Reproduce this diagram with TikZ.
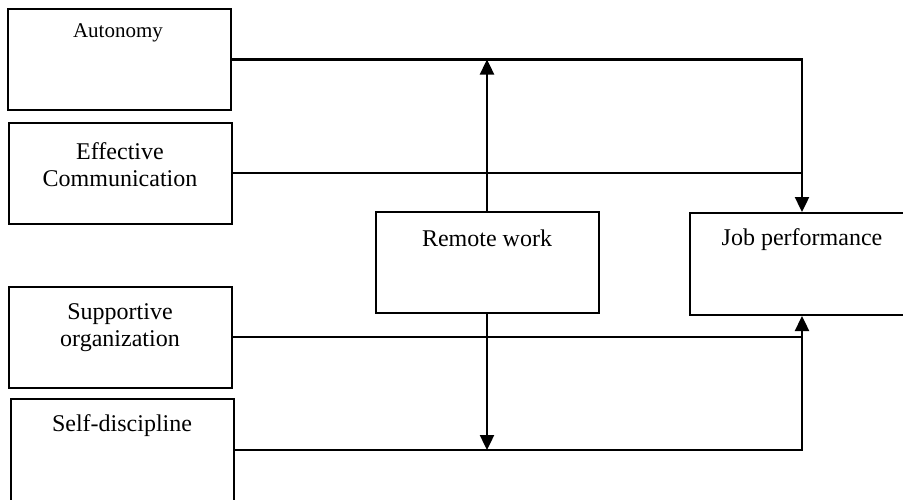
\documentclass[tikz,border=0pt]{standalone}
\usepackage{fontspec}
\setmainfont{Liberation Serif}
\usetikzlibrary{arrows.meta}
\tikzset{
  box/.style={draw, line width=2pt, minimum width=223pt, minimum height=101pt, inner sep=0pt},
  lbl/.style={inner sep=0pt, align=center, font=\fontsize{24}{27}\selectfont},
  conn/.style={line width=2.4pt},
  tip/.style={-{Triangle[width=14pt,length=15pt]}}
}
\begin{document}
\begin{tikzpicture}[x=1pt,y=-1pt]
\useasboundingbox (0,0) rectangle (903,499);
\node[box] (auto) at (119.5,59.5) {};
\node[box] (eff) at (120.5,173) {};
\node[box] (sup) at (120.5,337) {};
\node[box, minimum height=102pt] (self) at (122,450) {};
\node[box] (rw) at (487,262.5) {};
\node[box, minimum width=224pt, minimum height=102pt] (jp) at (802,264) {};
\node[lbl, font=\fontsize{21}{24}\selectfont] (autoT) at (118,33) {Autonomy};
\node[lbl] (effT) at (120,165) {Effective\\Communication};
\node[lbl] (supT) at (120,328) {Supportive\\organization};
\node[lbl] (selfT) at (122,426) {Self-discipline};
\node[lbl] (rwT) at (487,238) {Remote work};
\node[lbl] (jpT) at (802,240) {Job performance};
\draw[conn,tip] (auto.east) -| (jp.north);
\draw[conn] (eff.east) -- (eff.east -| jp.north);
\draw[conn,tip] (rw.north) -- (rw.north |- auto.east);
\draw[conn,tip] (rw.south) -- (rw.south |- self.east);
\draw[conn] (sup.east) -- (sup.east -| jp.south);
\draw[conn,tip] (self.east) -| (jp.south);
\end{tikzpicture}
\end{document}
